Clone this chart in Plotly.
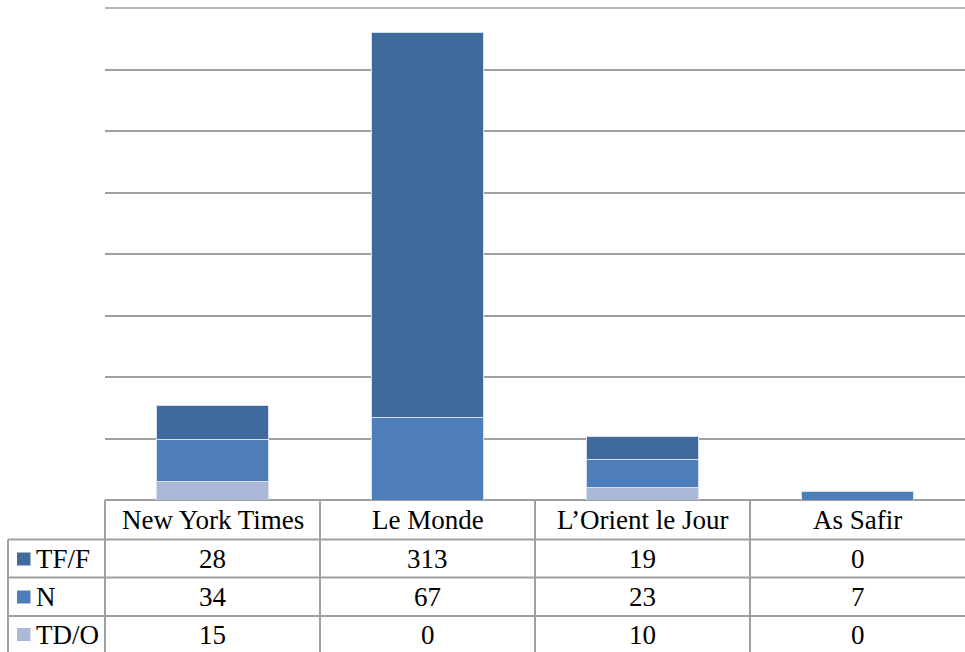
import plotly.graph_objects as go

categories = ["New York Times", "Le Monde", "L\u2019Orient le Jour", "As Safir"]
series_names = ["TF/F", "N", "TD/O"]
tf_f = [28, 313, 19, 0]
n_vals = [34, 67, 23, 7]
td_o = [15, 0, 10, 0]
colors = {"TF/F": "#3F6A9B", "N": "#4D7EBA", "TD/O": "#A9B9D7"}
values = {"TF/F": tf_f, "N": n_vals, "TD/O": td_o}

W, H = 965, 652
ML, MR, MT, MB = 105, 0, 8, 152
PW = W - ML - MR
PH = H - MT - MB

def px_x(px):
    return (px - ML) / PW

def px_y(py):
    return (H - MB - py) / PH

FONT = "Liberation Serif"
FS = 27
GRID = "#A0A0A0"

fig = go.Figure()
for name in ["TD/O", "N", "TF/F"]:
    fig.add_trace(go.Bar(
        x=categories, y=values[name], name=name,
        marker=dict(color=colors[name], line=dict(color="#D5DFEE", width=1)),
        width=0.52, showlegend=False, hoverinfo="x+y+name",
    ))

shapes = []
shapes.append(dict(type="line", xref="paper", yref="paper", x0=0, x1=1, y0=1, y1=1,
                   line=dict(color=GRID, width=1.5), layer="below"))
row_lines_px = [539.5, 577.5, 616]
for py in row_lines_px:
    shapes.append(dict(type="line", xref="paper", yref="paper",
                       x0=px_x(8), x1=1, y0=px_y(py), y1=px_y(py),
                       line=dict(color=GRID, width=2)))
n = len(categories)
for k in range(n):
    xp = k / n
    shapes.append(dict(type="line", xref="paper", yref="paper",
                       x0=xp, x1=xp, y0=0, y1=px_y(H + 5),
                       line=dict(color=GRID, width=2)))
shapes.append(dict(type="line", xref="paper", yref="paper",
                   x0=px_x(8), x1=px_x(8), y0=px_y(539.5), y1=px_y(H + 5),
                   line=dict(color=GRID, width=2)))

annotations = []
header_c = px_y(520)
row_px = [559, 597, 634.5]
row_c = [px_y(p) for p in row_px]
for c in categories:
    annotations.append(dict(x=c, xref="x", y=header_c, yref="paper",
                            text=c, showarrow=False, xanchor="center", yanchor="middle",
                            font=dict(family=FONT, size=FS, color="#000000")))
for i, name in enumerate(series_names):
    for c, v in zip(categories, values[name]):
        annotations.append(dict(x=c, xref="x", y=row_c[i], yref="paper",
                                text=str(v), showarrow=False, xanchor="center", yanchor="middle",
                                font=dict(family=FONT, size=FS, color="#000000")))
    annotations.append(dict(x=px_x(34), xref="paper", y=row_c[i], yref="paper",
                            text=name, showarrow=False, xanchor="left", yanchor="middle",
                            font=dict(family=FONT, size=FS, color="#000000")))
    yc = row_px[i]
    shapes.append(dict(type="rect", xref="paper", yref="paper",
                       x0=px_x(17), x1=px_x(30.5), y0=px_y(yc - 6.5), y1=px_y(yc + 6.5),
                       fillcolor=colors[name], line=dict(width=0)))

fig.update_layout(
    width=W, height=H,
    margin=dict(l=ML, r=MR, t=MT, b=MB, pad=0),
    barmode="stack",
    plot_bgcolor="white", paper_bgcolor="white",
    font=dict(family=FONT, color="#000000"),
    xaxis=dict(showticklabels=False, showgrid=False, zeroline=False, showline=False,
               ticks="", range=[-0.5, n - 0.5]),
    yaxis=dict(range=[0, 400], dtick=50, showticklabels=False, showgrid=True,
               gridcolor=GRID, gridwidth=1.5, zeroline=True, zerolinecolor=GRID,
               zerolinewidth=2, showline=False, ticks=""),
    shapes=shapes, annotations=annotations,
)

fig.write_html("out.html")
